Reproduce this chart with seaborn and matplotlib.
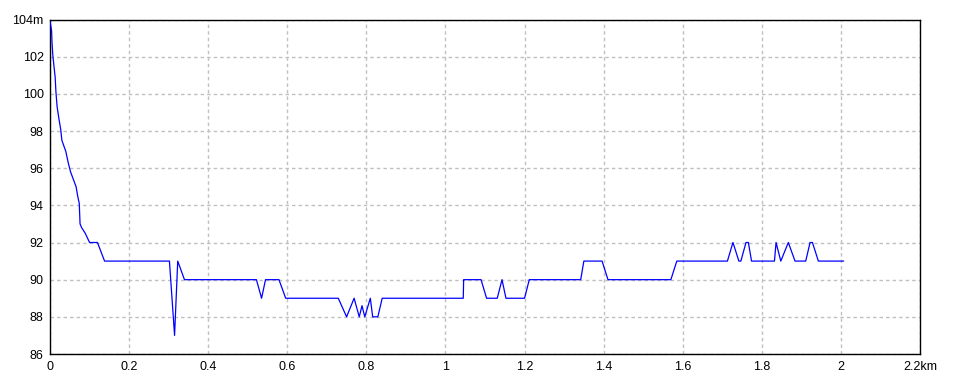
import matplotlib
matplotlib.use("Agg")
import matplotlib.pyplot as plt
import seaborn as sns
import pandas as pd

dist_km = [0.000, 0.004, 0.005, 0.007, 0.010, 0.013, 0.015, 0.018, 0.023, 0.027,
           0.030, 0.035, 0.040, 0.046, 0.052, 0.059, 0.066, 0.070, 0.074, 0.076,
           0.080, 0.089, 0.100, 0.120, 0.138, 0.302, 0.315, 0.323, 0.340, 0.522,
           0.535, 0.545, 0.579, 0.596, 0.729, 0.750, 0.769, 0.782, 0.789, 0.796,
           0.810, 0.816, 0.829, 0.840, 1.045, 1.046, 1.090, 1.104, 1.131, 1.143,
           1.153, 1.200, 1.212, 1.342, 1.350, 1.396, 1.411, 1.570, 1.585, 1.713,
           1.727, 1.742, 1.747, 1.760, 1.766, 1.774, 1.832, 1.836, 1.848, 1.867,
           1.884, 1.911, 1.922, 1.928, 1.943, 2.007]
elev_m = [103.9, 103.4, 102.8, 102.1, 101.5, 100.9, 100.1, 99.3, 98.6, 98.1,
          97.5, 97.2, 96.9, 96.3, 95.8, 95.4, 95.0, 94.5, 94.1, 93.0,
          92.8, 92.5, 92.0, 92.0, 91.0, 91.0, 87.0, 91.0, 90.0, 90.0,
          89.0, 90.0, 90.0, 89.0, 89.0, 88.0, 89.0, 88.0, 88.6, 88.0,
          89.0, 88.0, 88.0, 89.0, 89.0, 90.0, 90.0, 89.0, 89.0, 90.0,
          89.0, 89.0, 90.0, 90.0, 91.0, 91.0, 90.0, 90.0, 91.0, 91.0,
          92.0, 91.0, 91.0, 92.0, 92.0, 91.0, 91.0, 92.0, 91.0, 92.0,
          91.0, 91.0, 92.0, 92.0, 91.0, 91.0]

x_ticks = [0, 0.2, 0.4, 0.6, 0.8, 1.0, 1.2, 1.4, 1.6, 1.8, 2.0, 2.2]
x_labels = ["0", "0.2", "0.4", "0.6", "0.8", "1", "1.2", "1.4", "1.6", "1.8", "2", "2.2km"]
y_ticks = [86, 88, 90, 92, 94, 96, 98, 100, 102, 104]
y_labels = ["86", "88", "90", "92", "94", "96", "98", "100", "102", "104m"]

sns.set_style("white")
plt.rcParams['font.family'] = ['Liberation Sans', 'DejaVu Sans']

df = pd.DataFrame({"km": dist_km, "m": elev_m})

fig = plt.figure(figsize=(9.6, 3.84), dpi=100)
ax = fig.add_axes([50/960, 30/384, 870/960, 334.5/384])

sns.lineplot(data=df, x="km", y="m", ax=ax, color="#0000ff", linewidth=0.9,
             estimator=None, sort=False, zorder=3)

ax.set_xlim(0, 2.2)
ax.set_ylim(86, 104)
ax.set_xticks(x_ticks)
ax.set_xticklabels(x_labels)
ax.set_yticks(y_ticks)
ax.set_yticklabels(y_labels)
ax.set_xlabel("")
ax.set_ylabel("")
ax.tick_params(axis="both", length=0, labelsize=9, colors="black")
ax.tick_params(axis="x", pad=5)
ax.tick_params(axis="y", pad=4.5)
ax.grid(True, color="#c0c0c0", linestyle=(0, (2.5, 2.2)), linewidth=1.0)
ax.set_axisbelow(True)
for s in ax.spines.values():
    s.set_visible(True)
    s.set_color("black")
    s.set_linewidth(1.0)

fig.savefig("out.png", dpi=100, facecolor="white")
